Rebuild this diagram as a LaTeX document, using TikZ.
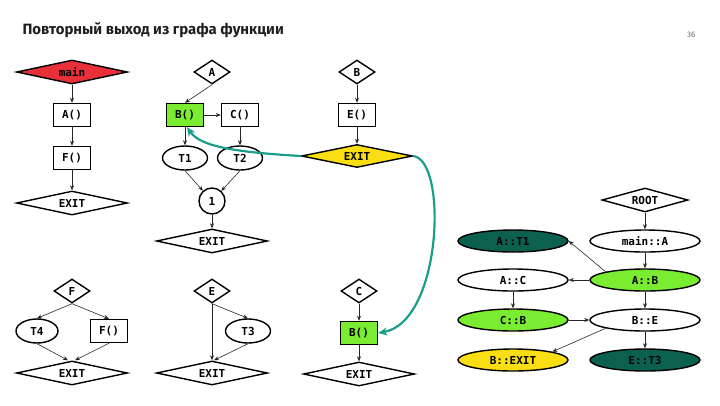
\documentclass[tikz,border=0pt]{standalone}
\usepackage{fontspec}
\setmainfont{Fira Sans}
\newfontfamily\codefont{DejaVu Sans Mono}
\usetikzlibrary{shapes.geometric,arrows.meta}
\definecolor{mainRed}{RGB}{232,48,58}
\definecolor{callGreen}{RGB}{122,236,50}
\definecolor{exitYellow}{RGB}{250,222,20}
\definecolor{leafTeal}{RGB}{12,96,80}
\definecolor{jumpTeal}{RGB}{26,158,138}
\begin{document}
\begin{tikzpicture}[x=1pt,y=-1pt,
	codeText/.style={font=\codefont\bfseries\fontsize{11}{13}\selectfont},
	boxNode/.style={codeText, rectangle, draw=black, line width=1.4pt, minimum width=37pt, minimum height=23pt, inner sep=0pt},
	diaNode/.style={codeText, diamond, draw=black, line width=1.4pt, aspect=4.6, minimum width=111pt, minimum height=24pt, inner sep=0pt},
	smallDia/.style={diaNode, aspect=1.5, minimum width=36pt},
	ellNode/.style={codeText, ellipse, draw=black, line width=1.4pt, minimum width=45pt, minimum height=24pt, inner sep=0pt},
	treeNode/.style={ellNode, minimum width=110pt, minimum height=22pt},
	arrowLine/.style={-{Stealth[length=5pt,width=4pt]}, line width=0.6pt, color=black!85},
	jumpLine/.style={-{Stealth[length=9pt,width=8pt]}, line width=2.2pt, color=jumpTeal}]

	\useasboundingbox (0,0) rectangle (720,405);

	\node[anchor=base west, font=\bfseries\fontsize{14.9}{17}\selectfont, text=black!88](title) at (19,34){Повторный выход из графа функции};
	\node[anchor=base east, font=\fontsize{8}{10}\selectfont, text=black!60](pageNum) at (699,37){36};

	\node[diaNode, fill=mainRed](mainDia) at (72,72){main};
	\node[boxNode](aCall) at (72,115){A()};
	\node[boxNode](fCall) at (72,158){F()};
	\node[diaNode](mainExit) at (72,203){EXIT};

	\node[smallDia](aDia) at (212,72){A};
	\node[boxNode, fill=callGreen](bCallA) at (185,115){B()};
	\node[boxNode](cCall) at (240,115){C()};
	\node[ellNode](tOne) at (185,158){T1};
	\node[ellNode](tTwo) at (240,158){T2};
	\node[codeText, circle, draw=black, line width=1.4pt, minimum size=26pt, inner sep=0pt](joinOne) at (212,201){1};
	\node[diaNode](aExit) at (212,241){EXIT};

	\node[smallDia](bDia) at (357,72){B};
	\node[boxNode](eCall) at (357,115){E()};
	\node[diaNode, fill=exitYellow, minimum height=23pt](bExit) at (357,156){EXIT};

	\node[smallDia](fDia) at (72,291){F};
	\node[ellNode, minimum width=42pt](tFour) at (37,331){T4};
	\node[boxNode](fCallF) at (109,331){F()};
	\node[diaNode](fExit) at (72,373){EXIT};

	\node[smallDia](eDia) at (212,291){E};
	\node[ellNode](tThree) at (248,331){T3};
	\node[diaNode](eExit) at (212,373){EXIT};

	\node[smallDia](cDia) at (359,291){C};
	\node[boxNode, fill=callGreen](bCallC) at (359,333){B()};
	\node[diaNode](cExit) at (359,374){EXIT};

	\node[diaNode, aspect=3.6, minimum width=86pt](rootDia) at (645,200){ROOT};
	\node[treeNode](mainA) at (645,241){main::A};
	\node[treeNode, fill=leafTeal](aTOne) at (513,241){A::T1};
	\node[treeNode, fill=callGreen](aB) at (645,280){A::B};
	\node[treeNode](aC) at (513,280){A::C};
	\node[treeNode, fill=callGreen](cB) at (513,320){C::B};
	\node[treeNode](bE) at (645,320){B::E};
	\node[treeNode, fill=exitYellow](bEXIT) at (513,360){B::EXIT};
	\node[treeNode, fill=leafTeal](eTThree) at (645,360){E::T3};

	\draw[arrowLine] (mainDia) -- (aCall);
	\draw[arrowLine] (aCall) -- (fCall);
	\draw[arrowLine] (fCall) -- (mainExit);

	\draw[arrowLine] (aDia.south) -- (bCallA.north);
	\draw[arrowLine] (bCallA) -- (cCall);
	\draw[arrowLine] (bCallA) -- (tOne);
	\draw[arrowLine] (cCall) -- (tTwo);
	\draw[arrowLine] (tOne.south) -- (joinOne);
	\draw[arrowLine] (tTwo.south) -- (joinOne);
	\draw[arrowLine] (joinOne) -- (aExit);

	\draw[arrowLine] (bDia) -- (eCall);
	\draw[arrowLine] (eCall) -- (bExit);

	\draw[arrowLine] (fDia.south) -- (tFour.north);
	\draw[arrowLine] (fDia.south) -- (fCallF.north);
	\draw[arrowLine] (tFour.south) -- ([xshift=-4pt]fExit.north);
	\draw[arrowLine] (fCallF.south) -- ([xshift=3pt]fExit.north);

	\draw[arrowLine] (eDia.south) -- (eExit.north);
	\draw[arrowLine] (eDia.south) -- (tThree.north);
	\draw[arrowLine] (tThree.south) -- ([xshift=2pt]eExit.north);

	\draw[arrowLine] (cDia) -- (bCallC);
	\draw[arrowLine] (bCallC) -- (cExit);

	\draw[arrowLine] (rootDia) -- (mainA);
	\draw[arrowLine] (mainA) -- (aB);
	\draw[arrowLine] (aB.north west) -- (aTOne.east);
	\draw[arrowLine] (aB) -- (aC);
	\draw[arrowLine] (aC) -- (cB);
	\draw[arrowLine] (cB) -- (bE);
	\draw[arrowLine] (aB) -- (bE);
	\draw[arrowLine] (bE.south west) -- (bEXIT.north east);
	\draw[arrowLine] (bE) -- (eTThree);

	\draw[jumpLine] (bExit.west) .. controls (232,152) and (200,146) .. ([xshift=2pt]bCallA.south);
	\draw[jumpLine] (bExit.east) .. controls (448,160) and (442,322) .. (bCallC.east);

\end{tikzpicture}
\end{document}
